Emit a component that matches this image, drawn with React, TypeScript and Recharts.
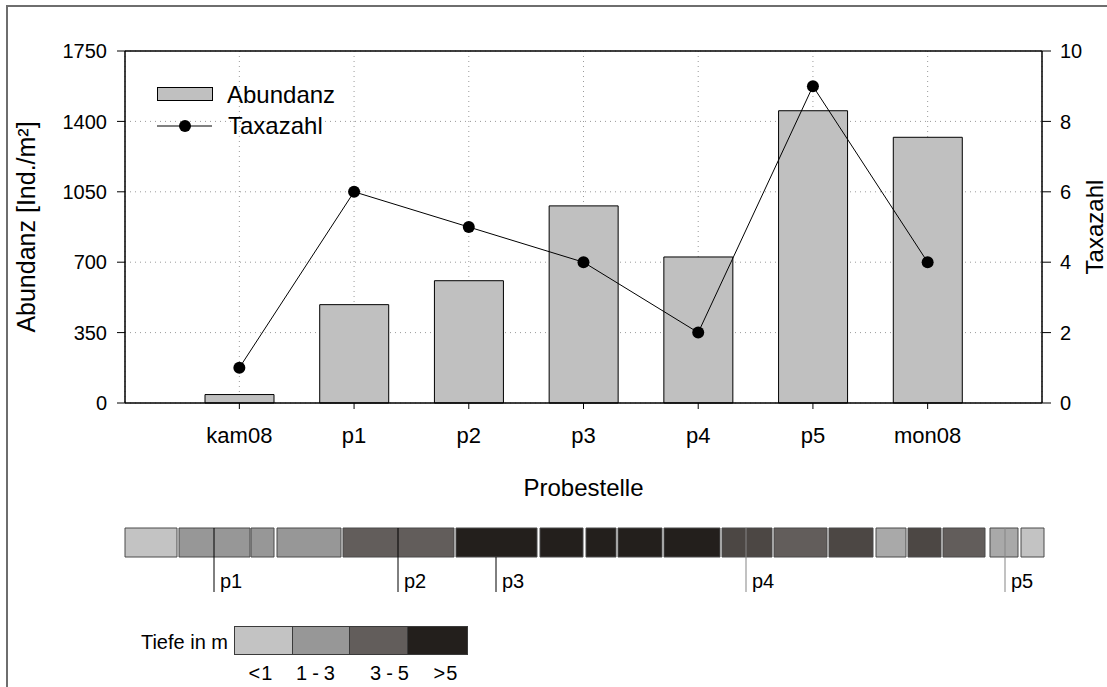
import React from 'react';
import {
  ComposedChart,
  Bar,
  Line,
  Scatter,
  XAxis,
  YAxis,
  CartesianGrid,
  Legend,
  ReferenceLine,
  ReferenceArea,
} from 'recharts';

// ---- main chart data ----
const categories = ['kam08', 'p1', 'p2', 'p3', 'p4', 'p5', 'mon08'];
const abundanz = [42, 489, 608, 980, 726, 1453, 1321];
const taxazahl = [1, 6, 5, 4, 2, 9, 4];
const abundanzTicks = [0, 350, 700, 1050, 1400, 1750];
const taxaTicks = [0, 2, 4, 6, 8, 10];

// ---- depth transect (distance units along the transect) ----
const transectLength = 919;
const segStart = [0, 54, 126, 152, 218, 331, 415, 461, 493, 539, 597, 649, 704, 751, 783, 818, 865, 896];
const segEnd = [52, 125, 149, 216, 329, 412, 458, 491, 537, 595, 647, 702, 748, 781, 816, 860, 893, 919];
const segDepth = ['<1', '1-3', '1-3', '1-3', '3-5', '>5', '>5', '>5', '>5', '>5', '3-5*', '3-5', '3-5*', '1-3*', '3-5*', '3-5', '1-3*', '<1'];
const markerNames = ['p1', 'p2', 'p3', 'p4', 'p5'];
const markerPos = [89, 273, 371, 621, 880];
const markerCrossesStrip = [true, true, false, true, true];
const depthClasses = ['<1', '1-3', '3-5', '>5'];

// ---- styles ----
const depthFill: Record<string, string> = {
  '<1': '#c3c3c3',
  '1-3': '#979797',
  '1-3*': '#a9a9a9',
  '3-5': '#625d5b',
  '3-5*': '#4c4744',
  '>5': '#231f1c',
};
const markerStroke = ['#000', '#000', '#000', '#858585', '#858585'];
const FONT = '"Liberation Sans", Arial, Helvetica, sans-serif';
const STRIP_H = 29;
const LANE_H = 65;

const mainData = categories.map((c, i) => ({ name: c, abundanz: abundanz[i], taxazahl: taxazahl[i] }));
const markerData = markerNames.map((n, i) => ({ name: n, pos: markerPos[i], lane: LANE_H - 1 }));

const renderLegend = () => (
  <svg width={230} height={70} style={{ display: 'block', overflow: 'visible' }}>
    <rect x={7.5} y={7.5} width={55} height={13} fill="#c0c0c0" stroke="#000" strokeWidth={1} />
    <text x={77} y={22.5} fontSize={24} fill="#000" fontFamily={FONT}>Abundanz</text>
    <line x1={7} x2={62} y1={46} y2={46} stroke="#000" strokeWidth={1} />
    <circle cx={35} cy={46} r={6} fill="#000" />
    <text x={78} y={54} fontSize={24} fill="#000" fontFamily={FONT}>Taxazahl</text>
  </svg>
);

const LeftTitle = (props: any) => {
  const vb = props.viewBox || { x: 25, y: 51, width: 100, height: 352 };
  const cx = 35;
  const cy = vb.y + vb.height / 2;
  return (
    <text x={cx} y={cy} transform={`rotate(-90 ${cx} ${cy})`} textAnchor="middle" fontSize={25} fill="#000">
      Abundanz [Ind./m²]
    </text>
  );
};

const RightTitle = (props: any) => {
  const vb = props.viewBox || { x: 1042, y: 51, width: 50, height: 352 };
  const cx = 1103;
  const cy = vb.y + vb.height / 2;
  return (
    <text x={cx} y={cy} transform={`rotate(-90 ${cx} ${cy})`} textAnchor="middle" fontSize={24} fill="#000">
      Taxazahl
    </text>
  );
};

const XTitle = (props: any) => {
  const vb = props.viewBox || { x: 125, y: 403, width: 917, height: 117 };
  return (
    <text x={vb.x + vb.width / 2} y={496} textAnchor="middle" fontSize={24} fill="#000">
      Probestelle
    </text>
  );
};

const makeMarkerLabel = (name: string) => (props: any) => {
  const vb = props.viewBox || { x: 0, y: 0, width: 0, height: 0 };
  return (
    <text x={vb.x + 6} y={vb.y + vb.height - 4} fontSize={20} fill="#000" fontFamily={FONT}>
      {name}
    </text>
  );
};

export default function App() {
  return (
    <div
      style={{
        position: 'absolute',
        left: 0,
        top: 0,
        width: 1107,
        height: 687,
        background: '#fff',
        overflow: 'hidden',
        fontFamily: FONT,
      }}
    >
      {/* outer frame */}
      <div
        style={{
          position: 'absolute',
          left: 6,
          top: 5,
          width: 1300,
          height: 900,
          borderLeft: '2px solid #6e6e6e',
          borderTop: '2px solid #6e6e6e',
        }}
      />
      <div style={{ position: 'absolute', left: 0, top: 0 }}>
        <ComposedChart
          width={1107}
          height={520}
          data={mainData}
          margin={{ top: 51, right: 15, bottom: 0, left: 25 }}
          barSize={69}
        >
          <CartesianGrid yAxisId="left" stroke="#9a9a9a" strokeDasharray="1 4" />
          <XAxis
            dataKey="name"
            type="category"
            height={117}
            padding={{ left: 57, right: 57 }}
            axisLine={{ stroke: '#000', strokeWidth: 1.5 }}
            tickLine={{ stroke: '#000' }}
            tickSize={6}
            tickMargin={18}
            tick={{ fill: '#000', fontSize: 22 }}
            label={<XTitle />}
          />
          <YAxis
            yAxisId="left"
            orientation="left"
            width={100}
            domain={[0, 1750]}
            ticks={abundanzTicks}
            axisLine={{ stroke: '#000', strokeWidth: 1.5 }}
            tickLine={{ stroke: '#000' }}
            tickSize={8}
            tickMargin={10}
            tick={{ fill: '#000', fontSize: 20 }}
            label={<LeftTitle />}
          />
          <YAxis
            yAxisId="right"
            orientation="right"
            width={50}
            domain={[0, 10]}
            ticks={taxaTicks}
            axisLine={{ stroke: '#000', strokeWidth: 1.5 }}
            tickLine={{ stroke: '#000' }}
            tickSize={9}
            tickMargin={9}
            tick={{ fill: '#000', fontSize: 20 }}
            label={<RightTitle />}
          />
          <ReferenceLine yAxisId="left" y={1750} stroke="#000" strokeWidth={1.5} />
          <Bar
            yAxisId="left"
            dataKey="abundanz"
            fill="#c0c0c0"
            stroke="#000"
            strokeWidth={1}
            isAnimationActive={false}
          />
          <Line
            yAxisId="right"
            dataKey="taxazahl"
            type="linear"
            stroke="#000"
            strokeWidth={1}
            dot={{ r: 6, fill: '#000', stroke: '#000', strokeWidth: 0 }}
            activeDot={false}
            isAnimationActive={false}
          />
          <Legend
            content={renderLegend}
            layout="horizontal"
            verticalAlign="middle"
            align="center"
            wrapperStyle={{ top: 80, left: 150, width: 230, height: 70 }}
          />
        </ComposedChart>
      </div>

      {/* depth transect strip */}
      <div style={{ position: 'absolute', left: 0, top: 520 }}>
        <ComposedChart
          width={1107}
          height={80}
          data={markerData}
          margin={{ top: 8, right: 63, bottom: 7, left: 125 }}
        >
          <XAxis
            type="number"
            dataKey="pos"
            domain={[0, transectLength]}
            allowDataOverflow
            hide
          />
          <YAxis
            type="number"
            dataKey="lane"
            domain={[0, LANE_H]}
            allowDataOverflow
            reversed
            hide
          />
          {segStart.map((s, i) => (
            <ReferenceArea
              key={`seg-${i}`}
              x1={s}
              x2={segEnd[i]}
              y1={0}
              y2={STRIP_H}
              fill={depthFill[segDepth[i]]}
              fillOpacity={1}
              stroke="#4a4a4a"
              strokeWidth={1}
              ifOverflow="visible"
            />
          ))}
          {markerNames.map((n, i) => (
            <ReferenceLine
              key={`mk-${n}`}
              segment={[
                { x: markerPos[i], y: markerCrossesStrip[i] ? 0 : STRIP_H },
                { x: markerPos[i], y: LANE_H - 1 },
              ]}
              stroke={markerStroke[i]}
              strokeWidth={1}
              ifOverflow="visible"
              label={makeMarkerLabel(n)}
            />
          ))}
          <Scatter
            dataKey="lane"
            fill="none"
            shape={() => <g />}
            isAnimationActive={false}
          />
        </ComposedChart>
      </div>

      {/* depth legend */}
      <svg
        width={1107}
        height={687}
        style={{ position: 'absolute', left: 0, top: 0, pointerEvents: 'none' }}
      >
        <text x={228} y={649} textAnchor="end" fontSize={20} fill="#000" fontFamily={FONT}>
          Tiefe in m
        </text>
        {depthClasses.map((d, i) => {
          const xs = [234.5, 292.5, 349.5, 407.5, 467.5];
          const lx = [261, 318, 392, 446];
          return (
            <g key={d}>
              <rect
                x={xs[i]}
                y={626.5}
                width={xs[i + 1] - xs[i]}
                height={28}
                fill={depthFill[d]}
                stroke="#3a3a3a"
                strokeWidth={1}
              />
              <text
                x={lx[i]}
                y={680}
                textAnchor="middle"
                fontSize={20}
                fill="#000"
                fontFamily={FONT}
                letterSpacing={d.length === 3 ? 5 : 1}
              >
                {d}
              </text>
            </g>
          );
        })}
      </svg>
    </div>
  );
}
